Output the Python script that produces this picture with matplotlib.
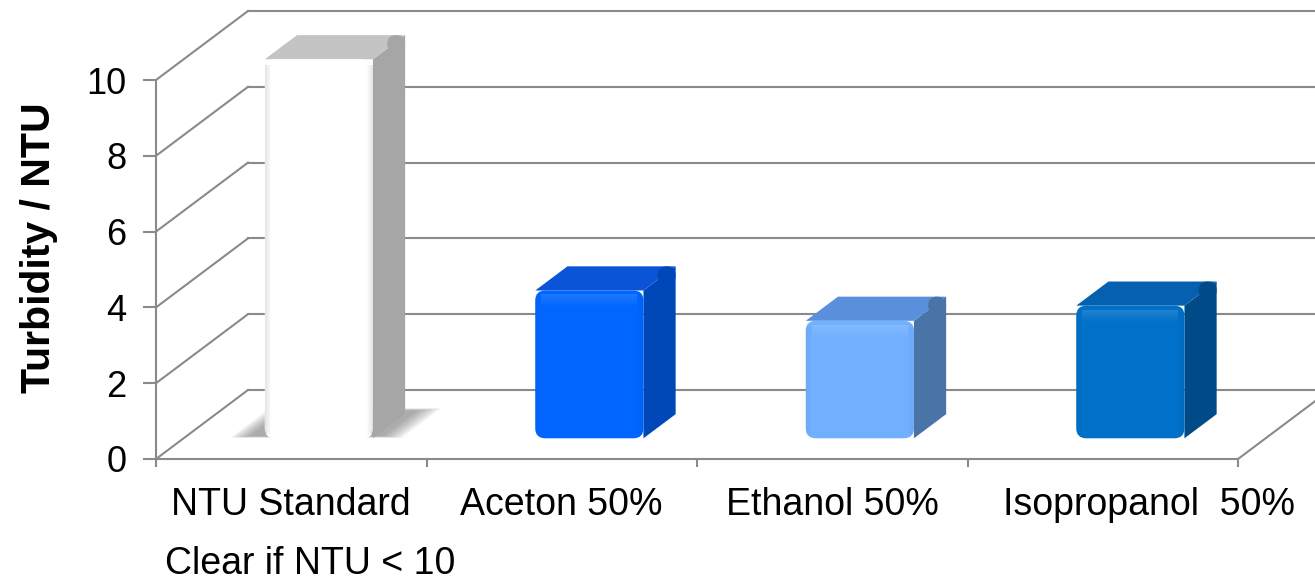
import numpy as np
import matplotlib
matplotlib.use("Agg")
import matplotlib.pyplot as plt
from matplotlib.patches import Polygon, FancyBboxPatch
from matplotlib.lines import Line2D
from matplotlib.transforms import IdentityTransform, ScaledTranslation

plt.rcParams["font.family"] = ["Liberation Sans", "DejaVu Sans"]

# ---- data -------------------------------------------------------------
categories = ["NTU Standard", "Aceton 50%", "Ethanol 50%", "Isopropanol  50%"]
turbidity = [10.0, 3.9, 3.1, 3.5]
y_ticks = [0, 2, 4, 6, 8, 10]

front_colors = ["#ffffff", "#0066ff", "#70b0ff", "#0070c8"]
top_colors = ["#c4c4c4", "#0a54d8", "#5a8fdc", "#0560b0"]
side_colors = ["#a6a6a6", "#0047b8", "#4a74a8", "#004a88"]
floor_shadow = [True, False, False, False]

GRID = "#8a8a8a"
DPI = 100
W, H = 1315, 582

fig = plt.figure(figsize=(W / DPI, H / DPI), dpi=DPI)
fig.patch.set_facecolor("white")

# front plane of the 3-D box (value axis + category axis)
left, right, bottom, top = 156, 1238, 459, 80
ax = fig.add_axes([left / W, 1 - bottom / H, (right - left) / W, (bottom - top) / H])
ax.set_xlim(-0.5, len(categories) - 0.5)
ax.set_ylim(0, 10)
ax.patch.set_visible(False)
for s in ("top", "right"):
    ax.spines[s].set_visible(False)
for s in ("left", "bottom"):
    ax.spines[s].set_color(GRID)
    ax.spines[s].set_linewidth(1.5)

# depth vector of the box in pixels
DEPTH = np.array([92.0, 69.0])


def proj(x, y, d):
    """Project a (category, value, depth) point to display pixels."""
    p = ax.transData.transform((x, y))
    return (p[0] + DEPTH[0] * d, p[1] + DEPTH[1] * d)


def dline(p, q, **kw):
    ax.add_line(Line2D([p[0], q[0]], [p[1], q[1]], transform=IdentityTransform(),
                       clip_on=False, color=GRID, lw=1.5, **kw))


xmin, xmax = ax.get_xlim()
# back wall gridlines and side wall diagonals
for v in y_ticks:
    dline(proj(xmin, v, 1), proj(xmax, v, 1), zorder=1)
    dline(proj(xmin, v, 0), proj(xmin, v, 1), zorder=1)
# right edge of the floor
dline(proj(xmax, 0, 0), proj(xmax, 0, 1), zorder=1)

# ---- bars -------------------------------------------------------------
half = 0.2
d0, d1 = 0.30, 0.65


def poly(pts, color, z, alpha=1.0):
    ax.add_patch(Polygon(pts, closed=True, transform=IdentityTransform(), clip_on=False,
                         facecolor=color, edgecolor="none", zorder=z, alpha=alpha))


for i, (v, fc, tc, sc, sh) in enumerate(zip(turbidity, front_colors, top_colors,
                                            side_colors, floor_shadow)):
    x0, x1 = i - half, i + half
    if sh:
        # soft shadow on the floor around the footprint
        for k in range(12):
            g = 0.01 + 0.012 * k
            pts = [proj(x0 - 0.06 - g * 0.5, 0, d0 + 0.03 - g * 0.15),
                   proj(x1 + 0.02 + g * 0.6, 0, d0 + 0.03 - g * 0.15),
                   proj(x1 + 0.02 + g * 0.6, 0, d1 + 0.05 + g * 0.25),
                   proj(x0 - 0.06 - g * 0.5, 0, d1 + 0.05 + g * 0.25)]
            poly(pts, "#666666", 2, alpha=0.06)

    fbl = proj(x0, 0, d0)
    fbr = proj(x1, 0, d0)
    ftr = proj(x1, v, d0)
    ftl = proj(x0, v, d0)
    btl = proj(x0, v, d1)
    btr = proj(x1, v, d1)
    bbr = proj(x1, 0, d1)

    # right side face
    poly([fbr, bbr, btr, ftr], sc, 3)
    # top face
    poly([ftl, ftr, btr, btl], tc, 3)
    # rounded bevel on the back corners
    r = 9
    ax.add_patch(FancyBboxPatch((btr[0] - 2 * r, btr[1] - 2 * r), 2 * r, 2 * r,
                                boxstyle=f"round,pad=0,rounding_size={r}",
                                transform=IdentityTransform(), clip_on=False,
                                facecolor=sc, edgecolor="none", zorder=3))
    # front face with rounded corners
    fw, fh = fbr[0] - fbl[0], ftl[1] - fbl[1]
    ax.add_patch(FancyBboxPatch(fbl, fw, fh,
                                boxstyle="round,pad=0,rounding_size=10",
                                transform=IdentityTransform(), clip_on=False,
                                facecolor=fc, edgecolor="none", zorder=4))
    # bevel shading along the edges of the front face
    for k in range(6):
        a = 0.05 * (6 - k) / 6
        poly([(fbl[0] + k, fbl[1] + 4), (fbl[0] + k + 1, fbl[1] + 4),
              (fbl[0] + k + 1, ftl[1] - 6), (fbl[0] + k, ftl[1] - 6)], "#000000", 5,
             alpha=a * (2.0 if i == 0 else 0.6))
        poly([(fbr[0] - k - 1, fbl[1] + 4), (fbr[0] - k, fbl[1] + 4),
              (fbr[0] - k, ftl[1] - 6), (fbr[0] - k - 1, ftl[1] - 6)], "#000000", 5,
             alpha=a * (2.0 if i == 0 else 0.8))
        poly([(fbl[0] + 6, ftl[1] - 4 - 2 * k), (fbr[0] - 6, ftl[1] - 4 - 2 * k),
              (fbr[0] - 6, ftl[1] - 6 - 2 * k), (fbl[0] + 6, ftl[1] - 6 - 2 * k)],
             "#ffffff", 5, alpha=0.12 * (6 - k) / 6)

# ---- axes, ticks and labels ------------------------------------------
ax.set_yticks(y_ticks)
ax.set_yticklabels([str(t) for t in y_ticks])
ax.tick_params(axis="y", direction="out", length=9.5, width=1.5, color=GRID,
               labelsize=26, pad=12, labelcolor="black")

ax.set_xticks(np.arange(xmin, xmax + 0.01, 1.0))
ax.set_xticklabels([])
ax.tick_params(axis="x", which="major", direction="out", length=6, width=1.5, color=GRID)
ax.set_xticks(np.arange(len(categories)), minor=True)
ax.set_xticklabels(categories, minor=True)
ax.tick_params(axis="x", which="minor", length=0, labelsize=27, pad=20, labelcolor="black")
# the last category label sits a little to the right of its slot
last = ax.get_xticklabels(minor=True)[-1]
last.set_transform(last.get_transform() + ScaledTranslation(0.46, 0, fig.dpi_scale_trans))

fig.text(39 / W, 1 - 248 / H, "Turbidity / NTU", rotation=90, ha="center", va="center",
         fontsize=29.5, fontweight="bold")
fig.text(165 / W, 1 - 564 / H, "Clear if NTU < 10", ha="left", va="center", fontsize=27)

fig.savefig("out.png", dpi=DPI, facecolor="white")
